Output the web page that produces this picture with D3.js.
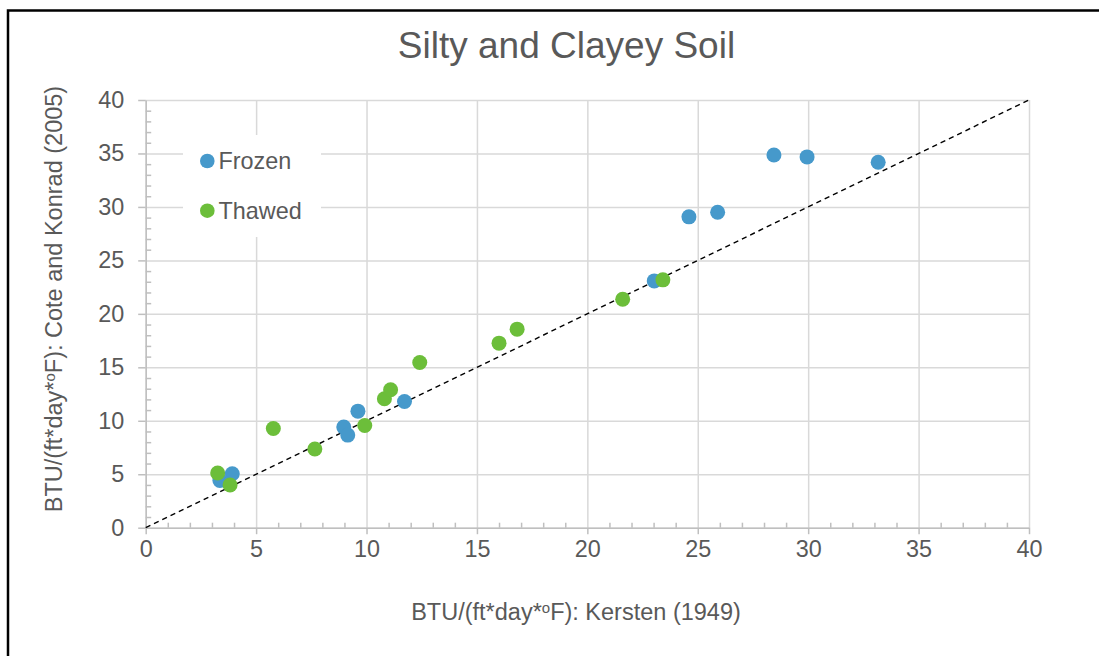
<!DOCTYPE html>
<html>
<head>
<meta charset="utf-8">
<script src="https://cdn.jsdelivr.net/npm/d3@7"></script>
<style>
  html, body { margin: 0; padding: 0; background: #fff; }
  svg { display: block; font-family: "Liberation Sans", Arial, sans-serif; }
  .grid line { stroke: #d9d9d9; stroke-width: 1.5; }
  .grid path { display: none; }
  .axis path, .axis line { stroke: #bfbfbf; stroke-width: 1.5; }
  .axis text { fill: #595959; font-size: 23.4px; }
</style>
</head>
<body>
<svg id="chart" width="1099" height="656"></svg>
<script>
// ─── Data ────────────────────────────────────────────────────
const frozenX = [3.36, 3.92, 8.97, 9.15, 9.61, 11.72, 23.03, 24.6, 25.9, 28.45, 29.95, 33.17];
const frozenY = [4.42, 5.05, 9.41, 8.66, 10.9, 11.8, 23.08, 29.07, 29.5, 34.86, 34.68, 34.18];
const thawedX = [3.26, 3.82, 5.78, 7.66, 9.92, 10.81, 11.09, 12.41, 16.0, 16.82, 21.6, 23.42];
const thawedY = [5.11, 3.99, 9.28, 7.36, 9.56, 12.06, 12.9, 15.45, 17.26, 18.57, 21.37, 23.18];
const majorTicks = [0, 5, 10, 15, 20, 25, 30, 35, 40];
const minorTicks = d3.range(0, 41, 1).filter((v) => v % 5 !== 0);
const seriesNames = ["Frozen", "Thawed"];
const seriesColors = ["#4699cb", "#6cbe3a"];

const svg = d3.select("#chart");
const x = d3.scaleLinear().domain([0, 40]).range([145.7, 1029]);
const y = d3.scaleLinear().domain([0, 40]).range([527.7, 100]);

// ─── Frame ───────────────────────────────────────────────────
svg.append("rect")
  .attr("x", 8).attr("y", 10.5)
  .attr("width", 1200).attr("height", 1000)
  .attr("fill", "none").attr("stroke", "#000").attr("stroke-width", 2.5);

// ─── Gridlines ───────────────────────────────────────────────
svg.append("g").attr("class", "grid")
  .attr("transform", `translate(0,${y(0)})`)
  .call(d3.axisBottom(x).tickValues(majorTicks).tickSize(-(y(0) - y(40))).tickFormat(""));
svg.append("g").attr("class", "grid")
  .attr("transform", `translate(${x(0)},0)`)
  .call(d3.axisLeft(y).tickValues(majorTicks).tickSize(-(x(40) - x(0))).tickFormat(""));

// legend background hides gridlines
svg.append("rect")
  .attr("x", 183).attr("y", 135).attr("width", 138).attr("height", 102)
  .attr("fill", "#fff");

// ─── Axes ────────────────────────────────────────────────────
svg.append("g").attr("class", "axis")
  .attr("transform", `translate(0,${y(0)})`)
  .call(d3.axisBottom(x).tickValues(majorTicks).tickSize(6.5).tickSizeOuter(0).tickPadding(6));
svg.append("g").attr("class", "axis")
  .attr("transform", `translate(0,${y(0)})`)
  .call(d3.axisBottom(x).tickValues(minorTicks).tickSize(-5).tickSizeOuter(0).tickFormat(""))
  .select("path").remove();

svg.append("g").attr("class", "axis")
  .attr("transform", `translate(${x(0)},0)`)
  .call(d3.axisLeft(y).tickValues(majorTicks).tickSize(7.5).tickSizeOuter(0).tickPadding(14));
svg.append("g").attr("class", "axis")
  .attr("transform", `translate(${x(0)},0)`)
  .call(d3.axisLeft(y).tickValues(minorTicks).tickSize(-5.5).tickSizeOuter(0).tickFormat(""))
  .select("path").remove();

svg.selectAll(".axis text").attr("font-family", null);

// ─── 1:1 line ────────────────────────────────────────────────
svg.append("line")
  .attr("x1", x(0)).attr("y1", y(0))
  .attr("x2", x(40)).attr("y2", y(40))
  .attr("stroke", "#000").attr("stroke-width", 1.4)
  .attr("stroke-dasharray", "5.2,4");

// ─── Points ──────────────────────────────────────────────────
const series = [
  frozenX.map((v, i) => [v, frozenY[i]]),
  thawedX.map((v, i) => [v, thawedY[i]])
];
series.forEach((pts, s) => {
  svg.append("g")
    .selectAll("circle")
    .data(pts)
    .join("circle")
    .attr("cx", (d) => x(d[0]))
    .attr("cy", (d) => y(d[1]))
    .attr("r", 7.5)
    .attr("fill", seriesColors[s]);
});

// ─── Legend ──────────────────────────────────────────────────
const legend = svg.append("g");
seriesNames.forEach((name, i) => {
  const cy = 161 + i * 49.7;
  legend.append("circle")
    .attr("cx", 207.3).attr("cy", cy).attr("r", 7.3)
    .attr("fill", seriesColors[i]);
  legend.append("text")
    .attr("x", 218.5).attr("y", cy + 8.2)
    .attr("fill", "#595959").attr("font-size", "23.4px")
    .text(name);
});

// ─── Titles ──────────────────────────────────────────────────
svg.append("text")
  .attr("x", 566.5).attr("y", 58)
  .attr("text-anchor", "middle")
  .attr("fill", "#595959").attr("font-size", "37px")
  .text("Silty and Clayey Soil");

function axisLabel(sel, tail) {
  sel.append("tspan").text("BTU/(ft*day*");
  sel.append("tspan").attr("font-size", "15px").attr("dy", -7).text("o");
  sel.append("tspan").attr("dy", 7).text("F): " + tail);
}

svg.append("text")
  .attr("x", 576).attr("y", 620)
  .attr("text-anchor", "middle")
  .attr("fill", "#595959").attr("font-size", "23.5px")
  .call(axisLabel, "Kersten (1949)");

svg.append("text")
  .attr("transform", "translate(62,299) rotate(-90)")
  .attr("text-anchor", "middle")
  .attr("fill", "#595959").attr("font-size", "23.5px")
  .call(axisLabel, "Cote and Konrad (2005)");
</script>
</body>
</html>
